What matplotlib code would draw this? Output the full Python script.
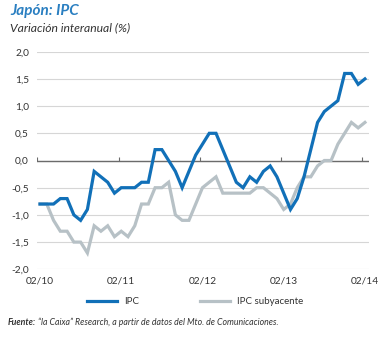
import matplotlib
matplotlib.use("Agg")
import matplotlib.pyplot as plt
from matplotlib.lines import Line2D
import numpy as np

plt.rcParams['font.family'] = ['Lato', 'DejaVu Sans']

tick_labels = ["02/10", "02/11", "02/12", "02/13", "02/14"]
ipc = [-0.8, -0.8, -0.8, -0.7, -0.7, -1.0, -1.1, -0.9, -0.2, -0.3,
       -0.4, -0.6, -0.5, -0.5, -0.5, -0.4, -0.4, 0.2, 0.2, 0.0,
       -0.2, -0.5, -0.2, 0.1, 0.3, 0.5, 0.5, 0.2, -0.1, -0.4,
       -0.5, -0.3, -0.4, -0.2, -0.1, -0.3, -0.6, -0.9, -0.7, -0.3,
       0.2, 0.7, 0.9, 1.0, 1.1, 1.6, 1.6, 1.4, 1.5]
core = [-0.8, -0.8, -1.1, -1.3, -1.3, -1.5, -1.5, -1.7, -1.2, -1.3,
        -1.2, -1.4, -1.3, -1.4, -1.2, -0.8, -0.8, -0.5, -0.5, -0.4,
        -1.0, -1.1, -1.1, -0.8, -0.5, -0.4, -0.3, -0.6, -0.6, -0.6,
        -0.6, -0.6, -0.5, -0.5, -0.6, -0.7, -0.9, -0.8, -0.5, -0.3,
        -0.3, -0.1, 0.0, 0.0, 0.3, 0.5, 0.7, 0.6, 0.7]
yticks = [-2.0, -1.5, -1.0, -0.5, 0.0, 0.5, 1.0, 1.5, 2.0]

BLUE = "#1170b8"
GRAY = "#b7c1c6"
TITLE_BLUE = "#2a7fc1"
TXT = "#333333"

W, H = 382, 338
fig = plt.figure(figsize=(W / 100, H / 100), dpi=100)
ax = fig.add_axes([37.3 / W, 1 - 269.3 / H, (369 - 37.3) / W, (269.3 - 51.7) / H])

n = len(ipc)
x = np.arange(n) + 0.4
ax.set_xlim(0, 49)
ax.set_ylim(-2, 2)

for s in ax.spines.values():
    s.set_visible(False)

ax.set_yticks(yticks)
ax.set_yticklabels([f"{v:.1f}".replace(".", ",") for v in yticks], fontsize=7.3, color=TXT)
ax.yaxis.grid(True, color="#d6d6d6", lw=0.8)
ax.set_axisbelow(True)
ax.tick_params(axis="y", length=0, pad=6)

year_idx = list(range(0, n, 12))
ax.set_xticks([x[i] for i in year_idx])
ax.set_xticklabels(tick_labels, fontsize=7.3, color=TXT)
ax.tick_params(axis="x", length=0, pad=5)

ax.axhline(0, color="#6b6b6b", lw=1.0, zorder=2)
ax.vlines(year_idx, 0, 0.07, color="#6b6b6b", lw=0.8, zorder=2)

ax.plot(x, core, color=GRAY, lw=2.3, solid_joinstyle="miter", zorder=3)
ax.plot(x, ipc, color=BLUE, lw=2.3, solid_joinstyle="miter", zorder=4)

handles = [Line2D([], [], color=BLUE, lw=2.3), Line2D([], [], color=GRAY, lw=2.3)]
fig.legend(handles, ["IPC", "IPC subyacente"], loc="center", ncol=2,
           bbox_to_anchor=(195 / W, 1 - 302 / H), frameon=False, fontsize=7,
           handlelength=3.1, handletextpad=0.7, columnspacing=6.3,
           labelcolor=TXT)

fig.text(10 / W, 1 - 15 / H, "Japón: IPC", fontsize=11, fontweight="bold",
         fontstyle="italic", color=TITLE_BLUE, va="baseline", ha="left")
fig.text(10 / W, 1 - 31.5 / H, "Variación interanual (%)", fontsize=8.7,
         fontstyle="italic", color=TXT, va="baseline", ha="left")

t1 = fig.text(7.5 / W, 1 - 325 / H, "Fuente:", fontsize=6.3, fontweight="bold",
              fontstyle="italic", color=TXT, va="baseline", ha="left")
r = fig.canvas.get_renderer()
bb = t1.get_window_extent(renderer=r)
fig.text((bb.x1 + 2) / W, 1 - 325 / H,
         "\u201cla Caixa\u201d Research, a partir de datos del Mto. de Comunicaciones.",
         fontsize=6.3, fontstyle="italic", color=TXT, va="baseline", ha="left")

fig.savefig("out.png", dpi=100)
